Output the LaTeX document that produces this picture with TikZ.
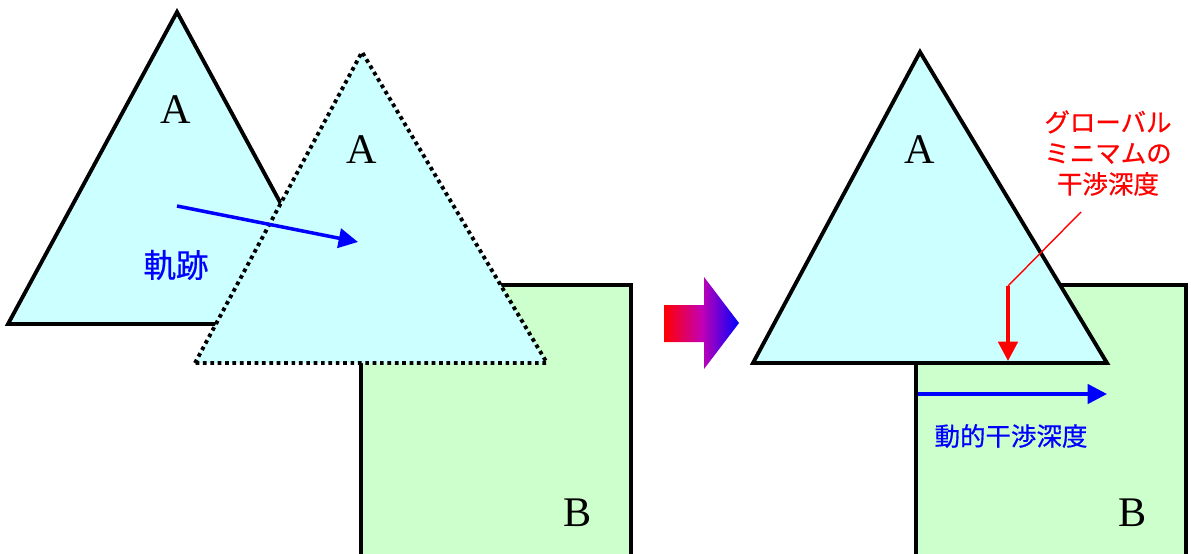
\documentclass[tikz,border=0pt]{standalone}
\usepackage{fontspec}
\setmainfont{Liberation Serif}
\newfontfamily\jpfont[FakeBold=0.6]{Noto Sans CJK JP}
\usetikzlibrary{arrows.meta}
\definecolor{trifill}{HTML}{CCFFFF}
\definecolor{boxfill}{HTML}{CCFFCC}
\definecolor{midmag}{HTML}{C400B4}
\tikzset{
	outline/.style = {line width=2.2pt, line join=miter},
	dotline/.style = {line width=2.2pt, dash pattern=on 2.1pt off 2.1pt},
	letter/.style = {font=\fontsize{24}{24}\selectfont},
	bluearrow/.style = {blue, line width=2pt, -{Triangle[length=11pt,width=11pt]}},
	redarrow/.style = {red, line width=2.2pt, -{Triangle[length=11pt,width=11pt]}},
	jplabel/.style = {font=\jpfont\fontsize{14.5}{17.6}\selectfont, align=center}
}
\begin{document}
\begin{tikzpicture}[x=0.02cm, y=-0.02cm]
	\useasboundingbox (0,0) rectangle (1191,554);
	% left side
	\draw [outline, fill=trifill] (8,324) -- (177,12) -- (346,324) -- cycle; %A
	\draw [outline, fill=boxfill] (361,554) -- (361,285) -- (631,285) -- (631,554); %B
	\fill [trifill] (195,363) -- (362,52) -- (547,363) -- cycle;
	\draw [dotline] (195,363) -- (362,52) -- (547,363) -- cycle; %A moved
	\node [letter] (a1) at (176,110) {A};
	\node [letter] (a2) at (362,150) {A};
	\node [letter] (b1) at (578,513) {B};
	\coordinate (trs) at (177,206);
	\coordinate (tre) at (358,242);
	\draw [bluearrow] (trs) -- (tre);
	\node [jplabel, blue, font=\jpfont\fontsize{18.5}{20}\selectfont] (track) at (176,265) {軌跡};
	% middle arrow
	\shade [left color=red, right color=blue, middle color=midmag] (664,305) -- (704,305) -- (704,277)
		-- (739,323) -- (704,369) -- (704,342) -- (664,342) -- cycle;
	% right side
	\draw [outline, fill=boxfill] (916,554) -- (916,285) -- (1186,285) -- (1186,554); %B
	\draw [outline, fill=trifill] (753,363) -- (920,52) -- (1107,363) -- cycle; %A
	\node [letter] (a3) at (920,150) {A};
	\node [letter] (b2) at (1133,513) {B};
	\node [jplabel, red] (glmin) at (1108,153) {グローバル\\ミニマムの\\干渉深度};
	\coordinate (lead) at (1081,212);
	\coordinate (rtop) at (1008,286);
	\coordinate (rbot) at (1008,361);
	\draw [red, line width=0.8pt] (lead) -- (rtop);
	\draw [redarrow] (rtop) -- (rbot);
	\coordinate (ds) at (918,394);
	\coordinate (de) at (1107,394);
	\draw [bluearrow] (ds) -- (de);
	\node [jplabel, blue] (dyn) at (1011,436) {動的干渉深度};
\end{tikzpicture}
\end{document}
